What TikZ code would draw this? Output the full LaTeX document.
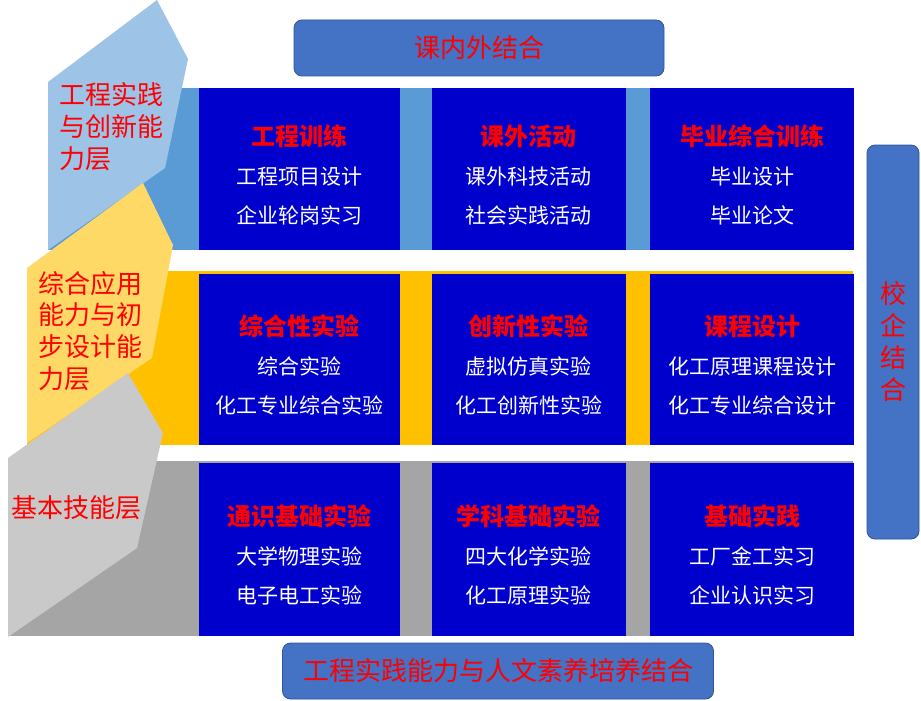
\documentclass[tikz,border=0pt]{standalone}
\usepackage{fontspec}
\setmainfont{Noto Sans CJK SC}
\usepackage{xcolor}
\usetikzlibrary{positioning}
\definecolor{cellblue}{HTML}{0000CC}
\definecolor{titlered}{HTML}{FF0000}
\definecolor{bandblue}{HTML}{5B9BD5}
\definecolor{tipblue}{HTML}{9DC3E6}
\definecolor{bandyellow}{HTML}{FFC000}
\definecolor{tipyellow}{HTML}{FFD966}
\definecolor{bandgrey}{HTML}{A5A5A5}
\definecolor{tipgrey}{HTML}{C9C9C9}
\definecolor{capfill}{HTML}{4472C4}
\definecolor{capdraw}{HTML}{2F5597}
\newcommand{\celltitle}[1]{{\fontsize{24}{39}\selectfont\bfseries\color{titlered}#1}}

\begin{document}
\begin{tikzpicture}[x=1pt, y=-1pt,
    cellbox/.style={rectangle, fill=cellblue, text=white, align=center, inner sep=0pt, text height=110pt, font=\fontsize{21}{39}\selectfont},
    capbox/.style={rectangle, rounded corners=8pt, draw=capdraw, fill=capfill, thick, inner sep=0pt, align=center, text=titlered, font=\fontsize{26}{32}\selectfont},
    layertext/.style={anchor=base west, inner sep=0pt, align=left, text=titlered, font=\fontsize{26}{31.6}\selectfont}
]
    \useasboundingbox (0,0) rectangle (921,701);

    % Bands
    \fill[bandblue] (48,88) rectangle (853,250);
    \fill[bandyellow] (27,271) rectangle (853,445);
    \fill[bandgrey] (8,461) rectangle (853,636);

    % Layer arrows on the left
    \fill[tipblue] (48,250) -- (48,82) -- (157,0) -- (188,59) -- (165,168) -- cycle;
    \fill[tipyellow] (27,443) -- (27,268) -- (143,183) -- (173,245) -- (152,358) -- cycle;
    \fill[tipgrey] (8,637) -- (8,458) -- (128,373) -- (163,433) -- (137,548) -- cycle;

    % (base = baseline of the last line)
    \node (lay1) [layertext] at (59,168) {工程实践\\与创新能\\力层};
    \node (lay2) [layertext] at (38,388) {综合应用\\能力与初\\步设计能\\力层};
    \node (lay3) [layertext] at (11,517) {基本技能层};

    % Top row
    \node (r1c1) [cellbox, anchor=north west, minimum width=201pt, minimum height=162pt] at (199,88) {\celltitle{工程训练}\\工程项目设计\\企业轮岗实习};
    \node (r1c2) [cellbox, right=31pt of r1c1, minimum width=194pt, minimum height=162pt] {\celltitle{课外活动}\\课外科技活动\\社会实践活动};
    \node (r1c3) [cellbox, right=24pt of r1c2, minimum width=204pt, minimum height=162pt] {\celltitle{毕业综合训练}\\毕业设计\\毕业论文};

    % Middle row
    \node (r2c1) [cellbox, anchor=north west, minimum width=201pt, minimum height=171pt] at (199,274) {\celltitle{综合性实验}\\综合实验\\化工专业综合实验};
    \node (r2c2) [cellbox, right=31pt of r2c1, minimum width=194pt, minimum height=171pt] {\celltitle{创新性实验}\\虚拟仿真实验\\化工创新性实验};
    \node (r2c3) [cellbox, right=24pt of r2c2, minimum width=204pt, minimum height=171pt] {\celltitle{课程设计}\\化工原理课程设计\\化工专业综合设计};

    % Bottom row
    \node (r3c1) [cellbox, anchor=north west, minimum width=201pt, minimum height=173pt] at (199,463) {\celltitle{通识基础实验}\\大学物理实验\\电子电工实验};
    \node (r3c2) [cellbox, right=31pt of r3c1, minimum width=194pt, minimum height=173pt] {\celltitle{学科基础实验}\\四大化学实验\\化工原理实验};
    \node (r3c3) [cellbox, right=24pt of r3c2, minimum width=204pt, minimum height=173pt] {\celltitle{基础实践}\\工厂金工实习\\企业认识实习};

    % Captions
    \node (top) [capbox, minimum width=370pt, minimum height=56pt] at (479,48) {课内外结合};
    \node (side) [capbox, minimum width=52pt, minimum height=394pt] at (893,342) {校\\企\\结\\合};
    \node (bottom) [capbox, minimum width=431pt, minimum height=56pt] at (498,671) {工程实践能力与人文素养培养结合};
\end{tikzpicture}
\end{document}
